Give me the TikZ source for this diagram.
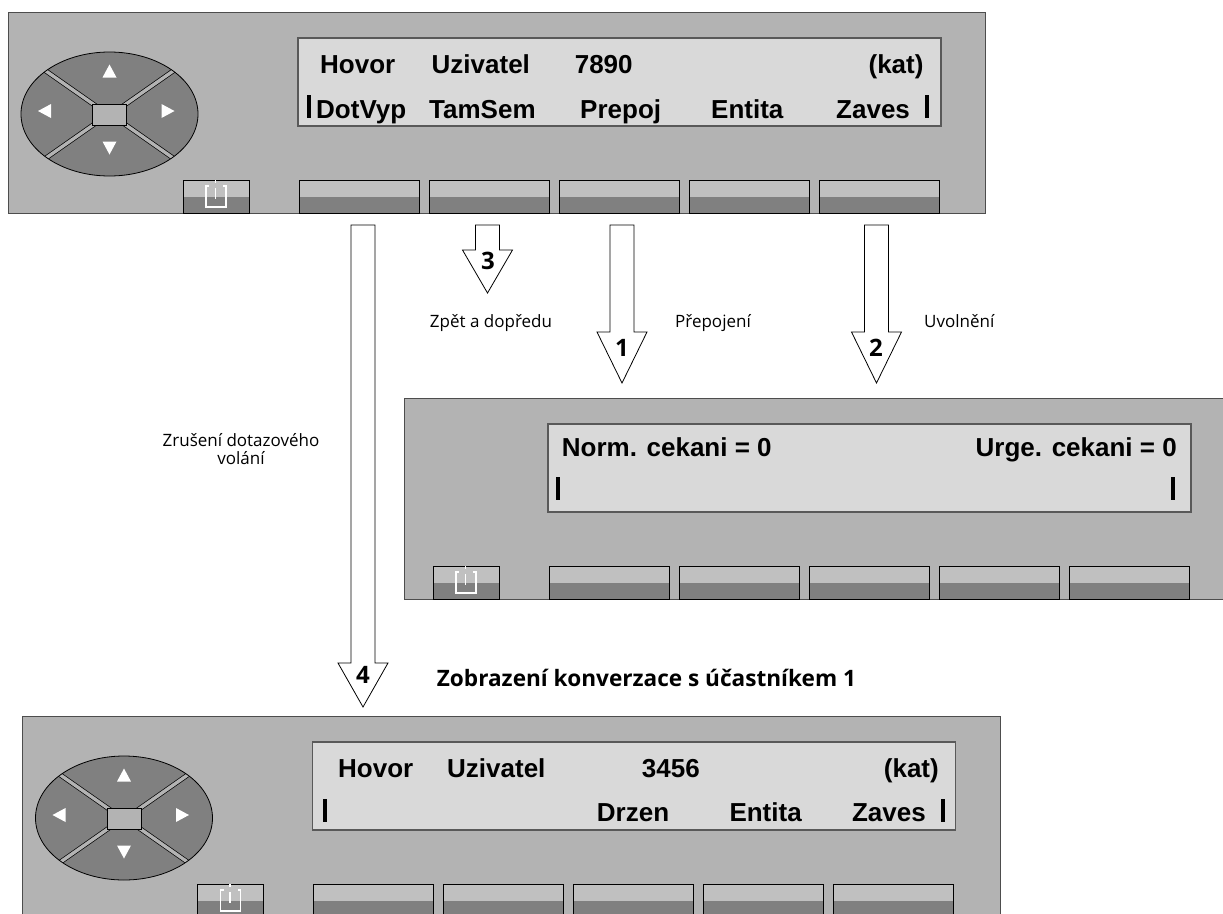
\documentclass[tikz,border=0pt]{standalone}
\usepackage{fontspec}
\newfontfamily\lcdf{Liberation Sans}
\newfontfamily\labf{Open Sans}
\usetikzlibrary{calc}
\definecolor{panelgray}{HTML}{B3B3B3}
\definecolor{paneledge}{HTML}{4D4D4D}
\definecolor{screengray}{HTML}{D9D9D9}
\definecolor{screenedge}{HTML}{595959}
\definecolor{keylight}{HTML}{C0C0C0}
\definecolor{keydark}{HTML}{808080}
\definecolor{padgray}{HTML}{808080}

\tikzset{
  panelbox/.style={fill=panelgray, draw=paneledge, line width=1pt},
  screenbox/.style={fill=screengray, draw=screenedge, line width=1.4pt},
  softkey/.style={draw=black, line width=0.8pt, fill=keydark, minimum width=120pt,
    minimum height=33pt, inner sep=0pt, outer sep=0pt,
    path picture={\fill[keylight] (path picture bounding box.north west) rectangle
      ([yshift=-17pt]path picture bounding box.north east);}},
  infokey/.style={softkey, minimum width=66pt},
  lcd/.style={inner sep=0pt, font=\lcdf\bfseries\fontsize{26}{30}\selectfont},
  cursorbar/.style={fill=black},
  padarrow/.style={fill=white},
  iconline/.style={draw=white, line width=1.3pt},
  blockarrow/.style={draw=black, fill=white, line width=0.8pt, line join=miter},
  numlbl/.style={inner sep=0pt, font=\labf\bfseries\fontsize{24}{28}\selectfont},
  lbl/.style={inner sep=0pt, font=\labf\fontsize{17}{18}\selectfont},
  titlelbl/.style={inner sep=0pt, font=\labf\bfseries\fontsize{22.6}{26}\selectfont},
}

% panel in local coordinates of the top panel; #1 = name prefix, #2 = left edge
\newcommand\phonepanel[2]{%
  \draw[panelbox] (#2,12) rectangle (985.5,213);
  \draw[screenbox] (298,38) rectangle (941,126);
  \node[infokey] (#1info) at (216,196.5) {};
  \draw[iconline] (209,186) -- (206,186) -- (206,207) -- (226,207) -- (226,186) -- (223,186);
  \draw[iconline] (215.5,188) -- (215.5,199);
  \draw[iconline] (215.5,180) -- (215.5,183);
  \foreach \k in {1,...,5}{
    \node[softkey] (#1key\k) at ({359+130*(\k-1)},196.5) {};
  }
}
\newcommand\navpad{%
  \begin{scope}
    \clip (109.5,114) ellipse [x radius=88.5, y radius=62];
    \fill[padgray] (109.5,114) ellipse [x radius=88.5, y radius=62];
    \foreach \sx/\sy in {-1/-1,1/-1,-1/1,1/1}{
      \draw[black, line width=0.7pt, double=panelgray, double distance=3.4pt]
        ({109.5+10*\sx},{114.5+6*\sy}) -- ++({80*\sx},{56*\sy});
    }
  \end{scope}
  \draw[black, line width=0.8pt] (109.5,114) ellipse [x radius=88.5, y radius=62];
  \draw[black, line width=0.7pt, fill=panelgray] (92.5,104) rectangle (126.5,125);
  \fill[padarrow] (102.5,77.5) -- (116.5,77.5) -- (109.5,64.5) -- cycle;
  \fill[padarrow] (102.5,141.5) -- (116.5,141.5) -- (109.5,154.5) -- cycle;
  \fill[padarrow] (51,104) -- (51,118) -- (38,111) -- cycle;
  \fill[padarrow] (161.5,104) -- (161.5,118) -- (174.5,111) -- cycle;
}
% block arrow: #1 centre x, #2 top y, #3 head start y, #4 tip y
\newcommand\blkarrow[4]{%
  \draw[blockarrow] ({#1-12},#2) -- ({#1+12},#2) -- ({#1+12},#3) -- ({#1+25},#3)
    -- (#1,#4) -- ({#1-25},#3) -- ({#1-12},#3) -- cycle;
}

\begin{document}
\begin{tikzpicture}[x=1pt,y=-1pt]
\useasboundingbox (0,0) rectangle (1223,913);
\clip (0,0) rectangle (1223,913);

% ---------- top panel
\phonepanel{t}{8}
\navpad
\node[lcd, anchor=base west] (tHovor) at (320,73.5) {Hovor};
\node[lcd, anchor=base west] (tUziv) at (431.5,73.5) {Uzivatel};
\node[lcd, anchor=base west] (tNum) at (574.6,73.5) {7890};
\node[lcd, anchor=base east] (tKat) at (923.7,73.5) {(kat)};
\fill[cursorbar] (307,95) rectangle (311,118);
\fill[cursorbar] (925,95) rectangle (929,118);
\node[lcd, anchor=base west] (tDot) at (316,118) {DotVyp};
\node[lcd, anchor=base west] (tTam) at (429,118) {TamSem};
\node[lcd, anchor=base west] (tPre) at (580,118) {Prepoj};
\node[lcd, anchor=base west] (tEnt) at (711,118) {Entita};
\node[lcd, anchor=base west] (tZav) at (836,118) {Zaves};

% ---------- middle panel
\begin{scope}[shift={(250,386)}]
  \phonepanel{m}{154}
\end{scope}
\node[lcd, anchor=base west] (mNorm) at (561.7,456.7) {Norm. cekani = 0};
\node[lcd, anchor=base east] (mUrge) at (1177,456.7) {Urge. cekani = 0};
\fill[cursorbar] (556,477) rectangle (560,499.5);
\fill[cursorbar] (1171,477) rectangle (1175,499.5);

% ---------- bottom panel
\begin{scope}[shift={(14.5,704)}]
  \phonepanel{b}{8}
  \navpad
\end{scope}
\node[lcd, anchor=base west] (bHovor) at (338,777) {Hovor};
\node[lcd, anchor=base west] (bUziv) at (447,777) {Uzivatel};
\node[lcd, anchor=base west] (bNum) at (641.7,777) {3456};
\node[lcd, anchor=base east] (bKat) at (939,777) {(kat)};
\fill[cursorbar] (322.5,799) rectangle (326.5,822);
\fill[cursorbar] (941,799) rectangle (945,822);
\node[lcd, anchor=base west] (bDrz) at (596.7,821) {Drzen};
\node[lcd, anchor=base west] (bEnt) at (729.3,821) {Entita};
\node[lcd, anchor=base east] (bZav) at (926,821) {Zaves};

% ---------- arrows
\blkarrow{363}{225}{663}{707}
\blkarrow{487.5}{225}{250}{293}
\blkarrow{622}{225}{332}{383}
\blkarrow{876.5}{225}{332}{383}
\node[numlbl] (n4) at (363,675) {4};
\node[numlbl] (n3) at (488,261) {3};
\node[numlbl] (n1) at (622,348) {1};
\node[numlbl] (n2) at (876,348) {2};

% ---------- labels
\node[lbl, anchor=base] (lZpet) at (491,327) {Zpět a dopředu};
\node[lbl, anchor=base west] (lPrep) at (675,327) {Přepojení};
\node[lbl, anchor=base west] (lUvol) at (924,327) {Uvolnění};
\node[lbl, align=center] (lZrus) at (241,449) {Zrušení dotazového\\volání};
\node[titlelbl, anchor=base west] (title) at (436.7,686.7) {Zobrazení konverzace s účastníkem 1};
\end{tikzpicture}
\end{document}
